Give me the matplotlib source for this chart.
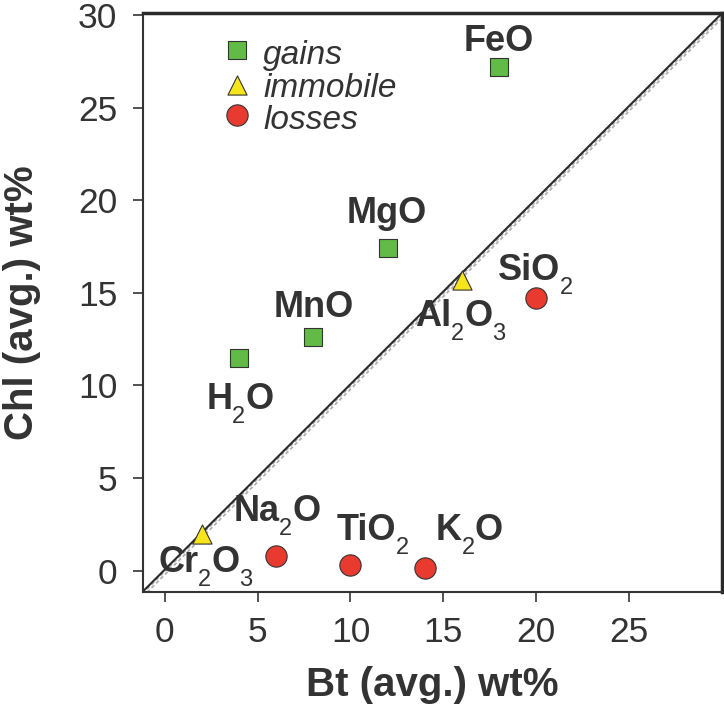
import matplotlib
matplotlib.use("Agg")
import matplotlib.pyplot as plt

plt.rcParams['font.family'] = ['Liberation Sans', 'DejaVu Sans']

# ---- data ----
gain_names = ['FeO', 'MgO', 'MnO', 'H2O']
gain_bt = [18, 12, 8, 4]
gain_chl = [27.2, 17.4, 12.6, 11.5]

immobile_names = ['Al2O3', 'Cr2O3']
immobile_bt = [16, 2]
immobile_chl = [15.7, 2.0]

loss_names = ['SiO2', 'Na2O', 'TiO2', 'K2O']
loss_bt = [20, 6, 10, 14]
loss_chl = [14.7, 0.8, 0.3, 0.15]

x_ticks = [0, 5, 10, 15, 20, 25]
y_ticks = [0, 5, 10, 15, 20, 25, 30]
legend_labels = ['gains', 'immobile', 'losses']

# ---- layout (label offsets in pixels: left edge, baseline) ----
label_offsets = {
    'FeO': (-35, 16), 'MgO': (-41, 25), 'MnO': (-40, 20), 'H2O': (-33, -51),
    'Al2O3': (-47, -46), 'Cr2O3': (-44, -38),
    'SiO2': (-38, 18), 'Na2O': (-43, 35), 'TiO2': (-14, 25), 'K2O': (11, 28),
}

GREEN = '#62BB46'
YELLOW = '#F7E51B'
RED = '#E93A2F'
EDGE = '#333333'
TXT = '#333333'

fig = plt.figure(figsize=(7.24, 7.07), dpi=100)
ax = fig.add_axes([0.197, 0.163, 0.7998, 0.8186])
renderer = fig.canvas.get_renderer()

xmin, xmax = -1.2, 30.0
ymin, ymax = -1.13, 30.1
ax.set_xlim(xmin, xmax)
ax.set_ylim(ymin, ymax)

# isocon and reference lines
ax.plot([xmin, xmax], [xmin - 0.02, xmax - 0.05], color='#b0b0b0', lw=1.3, ls=(0, (2, 1.5)), zorder=1)
ax.plot([xmin, xmax], [xmin - 0.2, xmax - 0.2], color='#b0b0b0', lw=1.3, ls=(0, (2, 1.5)), zorder=1)
ax.plot([xmin, xmax], [xmin + 0.07, xmax + 0.07], color='#2a2a2a', lw=1.5, zorder=2)

sq_s, tri_s, circ_s = 150, 190, 235
ax.scatter(gain_bt, gain_chl, marker='s', s=sq_s, color=GREEN, edgecolor=EDGE, linewidth=0.8, zorder=3)
ax.scatter(immobile_bt, immobile_chl, marker='^', s=tri_s, color=YELLOW, edgecolor=EDGE, linewidth=0.8, zorder=3)
ax.scatter(loss_bt, loss_chl, marker='o', s=circ_s, color=RED, edgecolor=EDGE, linewidth=0.8, zorder=3)


def split_formula(name):
    pieces = []
    for ch in name:
        sub = ch.isdigit()
        if pieces and pieces[-1][1] == sub:
            pieces[-1][0] += ch
        else:
            pieces.append([ch, sub])
    return pieces


def draw_label(name, xv, yv):
    dx, dy = label_offsets[name]
    off = 0.0
    for txt, sub in split_formula(name):
        t = ax.annotate(txt, (xv, yv), xytext=(dx + off, dy + (-14 if sub else 0)),
                        textcoords='offset pixels', ha='left', va='baseline',
                        fontsize=17 if sub else 26,
                        fontweight='normal' if sub else 'bold',
                        color=TXT, zorder=4)
        off += t.get_window_extent(renderer).width


for names, xs, ys in [(gain_names, gain_bt, gain_chl),
                      (immobile_names, immobile_bt, immobile_chl),
                      (loss_names, loss_bt, loss_chl)]:
    for n, xv, yv in zip(names, xs, ys):
        draw_label(n, xv, yv)

# legend (manual)
leg_markers = [('s', GREEN, sq_s), ('^', YELLOW, tri_s), ('o', RED, circ_s)]
leg_mark_y = [0.9356, 0.8751, 0.8233]
leg_base_y = [0.9113, 0.8543, 0.7990]
for (m, c, s), lab, my, by in zip(leg_markers, legend_labels, leg_mark_y, leg_base_y):
    ax.scatter([0.163], [my], transform=ax.transAxes, marker=m, s=s, color=c,
               edgecolor=EDGE, linewidth=0.8, zorder=5, clip_on=False)
    ax.text(0.208, by, lab, transform=ax.transAxes, fontsize=24, fontstyle='italic',
            color=TXT, ha='left', va='baseline')

ax.set_xticks(x_ticks)
ax.set_yticks(y_ticks)
ax.tick_params(axis='both', direction='out', length=7.2, width=1.2, color='#333333',
               labelsize=25.5, labelcolor=TXT)
ax.tick_params(axis='x', pad=10)
ax.tick_params(axis='y', pad=11)

for side in ['left', 'bottom']:
    ax.spines[side].set_linewidth(1.5)
    ax.spines[side].set_color('#333333')
for side in ['top', 'right']:
    ax.spines[side].set_linewidth(2.5)
    ax.spines[side].set_color('#2a2a2a')

ax.set_xlabel('Bt (avg.) wt%', fontsize=29, fontweight='bold', color=TXT)
ax.set_ylabel('Chl (avg.) wt%', fontsize=29, fontweight='bold', color=TXT)
ax.xaxis.set_label_coords(0.5, -0.128)
ax.yaxis.set_label_coords(-0.1757, 0.5)

fig.savefig('out.png', dpi=100)
